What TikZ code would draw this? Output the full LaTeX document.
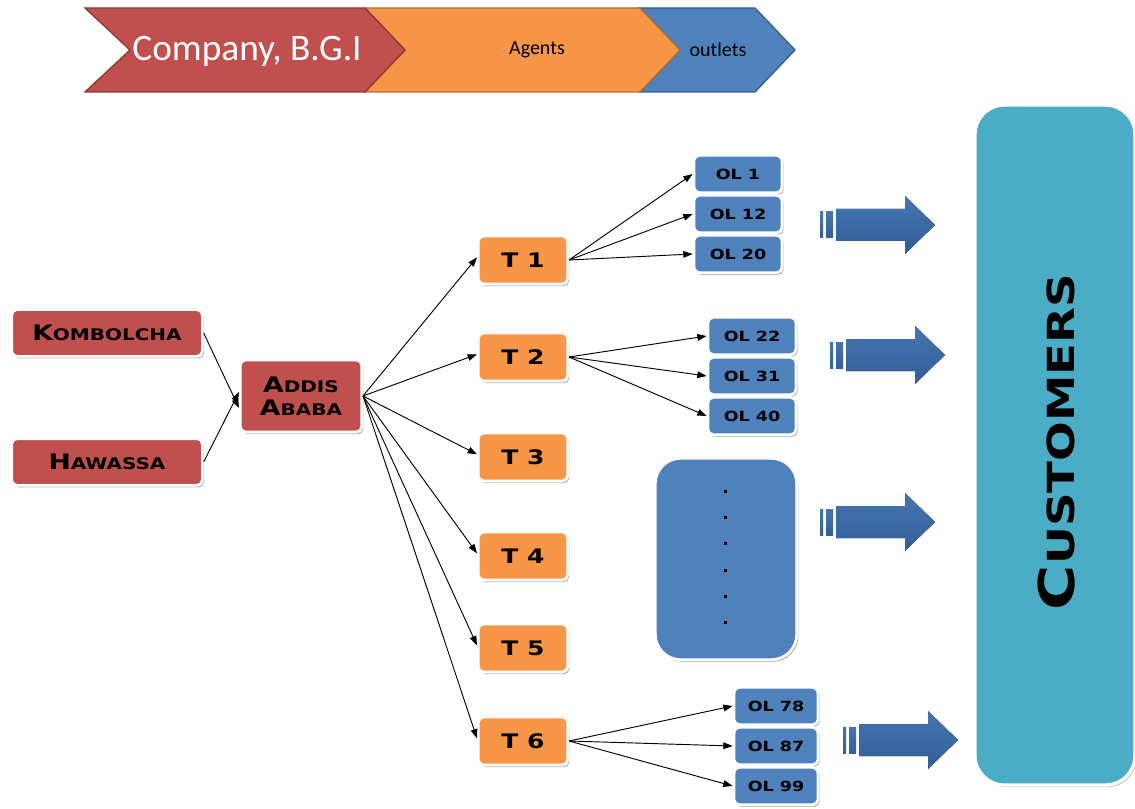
\documentclass[tikz,border=0pt]{standalone}
\usepackage{fontspec}
\setmainfont{Carlito}
\newfontfamily\cg[FakeStretch=1.25]{DejaVu Sans}
\usetikzlibrary{arrows.meta,shadows}

\definecolor{cred}{HTML}{C0504D}
\definecolor{credd}{HTML}{8C3836}
\definecolor{corange}{HTML}{F79646}
\definecolor{corangedd}{HTML}{B66D31}
\definecolor{cblue}{HTML}{4F81BD}
\definecolor{cbluedd}{HTML}{385D8A}
\definecolor{cteal}{HTML}{4BACC6}
\definecolor{fatop}{HTML}{4474B1}
\definecolor{famid}{HTML}{5C90D0}
\definecolor{fabot}{HTML}{345F98}

% small-caps look: large initial, smaller capitals after it
\newcommand\initcaps[4]{{\fontsize{#1}{#1}\selectfont #3}{\fontsize{#2}{#2}\selectfont #4}}

\tikzset{
  box/.style={draw=white, line width=2pt, rounded corners=4pt, inner sep=0pt,
    drop shadow={shadow xshift=1.3pt, shadow yshift=-1.6pt, fill=black, opacity=0.28},
    font=\cg\bfseries, text=black, align=center},
  city/.style={box, fill=cred, minimum width=143pt, minimum height=35pt},
  hub/.style={box, fill=cred, minimum width=91pt, minimum height=54pt},
  agent/.style={box, fill=corange, minimum width=67pt, minimum height=36pt, font=\cg\bfseries\fontsize{15}{15}\selectfont},
  outlet/.style={box, fill=cblue, minimum width=66pt, minimum height=28pt, font=\cg\bfseries\fontsize{10.5}{10.5}\selectfont},
  link/.style={-{Triangle[length=7pt,width=5pt]}, line width=0.7pt, black},
  farrow/.style={top color=fatop, middle color=famid, bottom color=fabot},
  fatarrow/.pic={
    \fill[farrow] (0,-13) rectangle (3,13);
    \fill[farrow] (6,-13) rectangle (13,13);
    \fill[farrow] (16,-16) -- (85,-16) -- (85,-29) -- (115,0) -- (85,29) -- (85,16) -- (16,16) -- cycle;
  }
}

\begin{document}
\begin{tikzpicture}[x=0.75pt, y=-0.75pt]
\useasboundingbox (0,0) rectangle (1135,809);
\fill[white] (0,0) rectangle (1135,809);

% header chevrons
\filldraw[fill=cblue, draw=cbluedd, line width=1pt]
  (640,8) -- (755,8) -- (795,50) -- (755,92) -- (640,92) -- (680,50) -- cycle;
\filldraw[fill=corange, draw=corangedd, line width=1pt]
  (365,8) -- (640,8) -- (680,50) -- (640,92) -- (365,92) -- (405,50) -- cycle;
\filldraw[fill=cred, draw=credd, line width=1pt]
  (85,8) -- (365,8) -- (405,50) -- (365,92) -- (85,92) -- (130,50) -- cycle;
\node[text=white, font=\fontsize{28}{28}\selectfont] (hcompany) at (247,51) {Company, B.G.I};
\node[text=black, font=\fontsize{15}{15}\selectfont] (hagents) at (537,50) {Agents};
\node[text=black, font=\fontsize{15}{15}\selectfont] (houtlets) at (718,50) {outlets};

% customers column
\node[draw=white, line width=2.5pt, fill=cteal, rounded corners=22pt,
      minimum width=120pt, minimum height=510pt,
      drop shadow={shadow xshift=1.3pt, shadow yshift=-1.6pt, fill=black, opacity=0.25}]
      (cust) at (1055,445) {};
\node[rotate=90, font=\cg\bfseries] (custlabel) at (1057,442) {\initcaps{37}{28}{C}{USTOMERS}};

% origins and hub
\node[city] (kom) at (107,333) {\initcaps{16}{12}{K}{OMBOLCHA}};
\node[city] (haw) at (107,462) {\initcaps{16}{12}{H}{AWASSA}};
\node[hub] (addis) at (301,396) {\initcaps{16}{12}{A}{DDIS}\\[5pt]\initcaps{16}{12}{A}{BABA}};

% agents
\node[agent] (t1) at (523,260) {T 1};
\node[agent] (t2) at (523,357) {T 2};
\node[agent] (t3) at (523,457) {T 3};
\node[agent] (t4) at (523,556) {T 4};
\node[agent] (t5) at (523,648) {T 5};
\node[agent] (t6) at (523,741) {T 6};

% outlets
\node[outlet] (ol1)  at (738,174) {OL 1};
\node[outlet] (ol12) at (738,214) {OL 12};
\node[outlet] (ol20) at (738,254) {OL 20};
\node[outlet] (ol22) at (752,336) {OL 22};
\node[outlet] (ol31) at (752,376) {OL 31};
\node[outlet] (ol40) at (752,416) {OL 40};
\node[outlet, minimum width=63pt] (ol78) at (776,706) {OL 78};
\node[outlet, minimum width=63pt] (ol87) at (776,746) {OL 87};
\node[outlet, minimum width=63pt] (ol99) at (776,786) {OL 99};

% remaining outlets, elided
\node[box, fill=cblue, rounded corners=19pt, minimum width=106pt, minimum height=151pt] (olmore) at (726,559) {};
\foreach \yy in {490,516,542,569,595,621}
  \fill[black] (724,\yy) rectangle (727,\yy+3);

% connectors
\draw[link] (kom.east) -- ([yshift=-9pt]addis.west);
\draw[link] (haw.east) -- ([yshift=3pt]addis.west);
\foreach \t in {t1,t2,t3,t4,t5,t6}
  \draw[link] (addis.east) -- ([yshift=2pt]\t.west);
\foreach \o in {ol1,ol12,ol20}
  \draw[link] (t1.east) -- (\o.west);
\foreach \o in {ol22,ol31,ol40}
  \draw[link] (t2.east) -- (\o.west);
\foreach \o in {ol78,ol87,ol99}
  \draw[link] (t6.east) -- (\o.west);

% flow towards customers
\pic at (820,225) {fatarrow};
\pic at (830,355) {fatarrow};
\pic at (820,522) {fatarrow};
\pic at (843,740) {fatarrow};
\end{tikzpicture}
\end{document}
